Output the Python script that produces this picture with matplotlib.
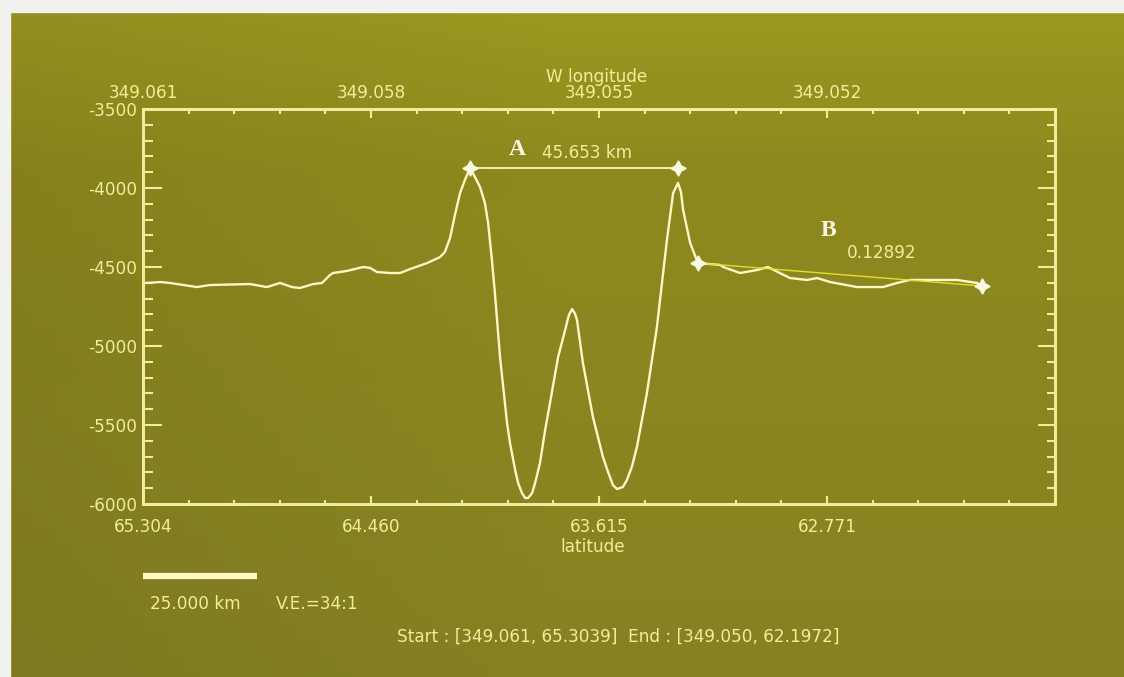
import matplotlib.pyplot as plt
from matplotlib.patches import Rectangle
import matplotlib.transforms as mtransforms
import numpy as np

plt.rcParams['font.family'] = ['DejaVu Sans']
plt.rcParams['font.size'] = 12.2

# elevation profile along the track (latitude in deg, elevation in m)
latitude = [65.304, 65.289, 65.241, 65.204, 65.104, 65.056, 64.908, 64.845, 64.797,
            64.752, 64.723, 64.674, 64.641, 64.612, 64.600, 64.549, 64.489, 64.463,
            64.437, 64.389, 64.352, 64.315, 64.252, 64.204, 64.186, 64.167, 64.149,
            64.130, 64.112, 64.093, 64.075, 64.056, 64.038, 64.026, 64.012, 64.001,
            63.982, 63.956, 63.945, 63.926, 63.915, 63.901, 63.889, 63.878, 63.863,
            63.852, 63.834, 63.815, 63.797, 63.767, 63.741, 63.727, 63.715, 63.704,
            63.697, 63.675, 63.638, 63.601, 63.582, 63.564, 63.549, 63.538, 63.527,
            63.512, 63.493, 63.475, 63.438, 63.401, 63.364, 63.341, 63.323, 63.312,
            63.304, 63.278, 63.249, 63.167, 63.156, 63.093, 63.030, 62.990, 62.953,
            62.908, 62.845, 62.808, 62.760, 62.660, 62.564, 62.512, 62.464, 62.364,
            62.290, 62.216, 62.197]
elevation = [-4601, -4601, -4595, -4601, -4627, -4614, -4608, -4627, -4601,
             -4627, -4633, -4608, -4601, -4551, -4538, -4525, -4500, -4506,
             -4532, -4538, -4538, -4513, -4475, -4437, -4405, -4316, -4171,
             -4032, -3949, -3873, -3930, -3994, -4095, -4222, -4456, -4665,
             -5070, -5487, -5614, -5785, -5867, -5930, -5962, -5962, -5930,
             -5867, -5740, -5532, -5361, -5070, -4899, -4804, -4766, -4797,
             -4835, -5108, -5449, -5702, -5797, -5880, -5905, -5899, -5892,
             -5848, -5760, -5639, -5297, -4880, -4329, -4032, -3968, -4025,
             -4139, -4348, -4475, -4487, -4500, -4538, -4519, -4500, -4532,
             -4570, -4582, -4570, -4595, -4627, -4627, -4601, -4582, -4582,
             -4582, -4601, -4620]

# measurement A: rim-to-rim distance
a_lat = [64.093, 63.323]
a_elev = [-3873, -3873]
a_text = "45.653 km"
a_km = 45.653
# measurement B: outer flank slope
b_lat = [63.249, 62.197]
b_elev = [-4475, -4620]
b_text = "0.12892"

lat_ticks = [65.304, 64.460, 63.615, 62.771]
lon_ticks = [349.061, 349.058, 349.055, 349.052]
elev_ticks = [-6000, -5500, -5000, -4500, -4000, -3500]
lat_range = (65.304, 61.927)
lon_range = (349.061, 349.049)
elev_range = (-6000, -3500)
scale_km = 25.0

BG_TOP = np.array([158, 153, 32]) / 255
BG_MID = np.array([142, 137, 30]) / 255
BG_BOT = np.array([135, 129, 34]) / 255
FG = '#f2ed9c'
LINE = '#fdf8c6'
MARK = '#fbf8e2'

W, H = 1124, 677
fig = plt.figure(figsize=(W / 100, H / 100), dpi=100)

# olive backdrop, a bit brighter toward the top, a bit darker at the left
bg = fig.add_axes([0, 0, 1, 1], zorder=-5)
t = np.linspace(0, 1, 200)[:, None, None]
grad = np.where(t < 0.25, BG_TOP + (BG_MID - BG_TOP) * (t / 0.25),
                BG_MID + (BG_BOT - BG_MID) * ((t - 0.25) / 0.75))
side = np.minimum(1.0, 0.94 + np.linspace(0, 0.12, 60))[None, :, None]
bg.imshow(np.clip(grad * side, 0, 1), aspect='auto', extent=[0, 1, 0, 1], origin='upper')
bg.axis('off')
fig.patches.append(Rectangle((0, 1 - 12 / H), 1, 12 / H, transform=fig.transFigure,
                             color='#f1f1ee', zorder=-4))
fig.patches.append(Rectangle((0, 0), 10 / W, 1, transform=fig.transFigure,
                             color='#f1f1ee', zorder=-4))

ax = fig.add_axes([143 / W, 173 / H, 912 / W, 395 / H])
ax.set_facecolor('none')

ax.plot(latitude, elevation, color=LINE, lw=1.7, zorder=3)
ax.plot(a_lat, a_elev, color='#f6f2a4', lw=1.4, zorder=3)
ax.plot(b_lat, b_elev, color='#e6de2a', lw=1.0, zorder=3)
ax.plot(a_lat + b_lat, a_elev + b_elev, ls='none', marker=(4, 1, 0), ms=11,
        color=MARK, mec=MARK, zorder=4)

serif = ['Liberation Serif', 'DejaVu Serif']
ax.text(63.919, -3759, "A", family=serif, weight='bold', fontsize=17,
        color=MARK, ha='center', va='center')
ax.text(63.826, -3778, a_text, color=FG, ha='left', va='center')
ax.text(62.767, -4266, "B", family=serif, weight='bold', fontsize=17,
        color=MARK, ha='center', va='center')
ax.text(62.697, -4411, b_text, color=FG, ha='left', va='center')

ax.set_xlim(*lat_range)
ax.set_ylim(*elev_range)
ax.set_xticks(lat_ticks, labels=[f"{v:.3f}" for v in lat_ticks])
ax.set_xticks(np.linspace(lat_range[0], lat_range[1], 21), minor=True)
ax.set_yticks(elev_ticks, labels=[f"{v:d}" for v in elev_ticks])
ax.set_yticks(np.arange(elev_range[0], elev_range[1] + 1, 100), minor=True)
ax.tick_params(axis='y', which='major', direction='in', length=14, width=1.5,
               color=FG, labelcolor=FG, pad=4)
ax.tick_params(axis='y', which='minor', direction='in', length=7, width=1.5, color=FG)
ax.tick_params(axis='x', which='major', direction='in', length=6, width=1.5,
               color=FG, labelcolor=FG, pad=10)
ax.tick_params(axis='x', which='minor', direction='in', length=3, width=1.5, color=FG)

# right-hand tick column
right = ax.secondary_yaxis('right')
right.set_yticks(elev_ticks, labels=[])
right.set_yticks(np.arange(elev_range[0], elev_range[1] + 1, 100), minor=True)
right.tick_params(which='major', direction='in', length=12, width=1.5, color=FG)
right.tick_params(which='minor', direction='in', length=6, width=1.5, color=FG)

# longitude scale along the top
top = ax.twiny()
top.set_facecolor('none')
top.set_xlim(*lon_range)
top.set_xticks(lon_ticks, labels=[f"{v:.3f}" for v in lon_ticks])
top.set_xticks(np.linspace(lon_range[0], lon_range[1], 21), minor=True)
top.tick_params(axis='x', which='major', direction='in', length=6.5, width=1.5,
                color=FG, labelcolor=FG, pad=5)
top.tick_params(axis='x', which='minor', direction='in', length=3.5, width=1.5, color=FG)

for a in (ax, top, right):
    for sp in a.spines.values():
        sp.set_color(FG)
        sp.set_linewidth(2)

fig.text(597 / W, 1 - 77 / H, "W longitude", color=FG, ha='center', va='center')
fig.text(593 / W, 1 - 547 / H, "latitude", color=FG, ha='center', va='center')

# 25 km scale bar, sized from the measured rim distance
bar_deg = scale_km / a_km * (a_lat[0] - a_lat[1])
trans = mtransforms.blended_transform_factory(ax.transData, fig.transFigure)
ax.plot([lat_range[0], lat_range[0] - bar_deg], [1 - 576 / H, 1 - 576 / H],
        transform=trans, color=LINE, lw=4.5, solid_capstyle='butt', clip_on=False)

fig.text(150 / W, 1 - 604 / H, f"{scale_km:.3f} km", color=FG, ha='left', va='center')
fig.text(276 / W, 1 - 604 / H, "V.E.=34:1", color=FG, ha='left', va='center')
fig.text(618 / W, 1 - 637 / H,
         "Start : [349.061, 65.3039]  End : [349.050, 62.1972]",
         color=FG, ha='center', va='center')

fig.savefig('out.png', dpi=100, facecolor=BG_MID)
